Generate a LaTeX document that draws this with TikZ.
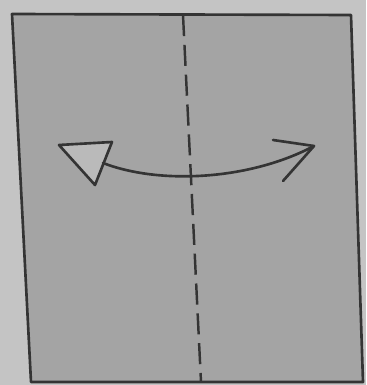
\documentclass[tikz,border=0pt]{standalone}
\usepackage{xcolor}
\usepackage{tikz}
\usetikzlibrary{calc}

\definecolor{deskgray}{RGB}{196,196,196}
\definecolor{papergray}{RGB}{164,164,164}
\definecolor{pencil}{RGB}{52,52,52}
\definecolor{headgray}{RGB}{186,186,186}

\begin{document}
\begin{tikzpicture}[
  x=0.02cm, y=-0.02cm,
  paper/.style={draw=pencil, line width=1.5pt, fill=papergray, line join=round},
  fold/.style={draw=pencil, line width=1.4pt, dash pattern=on 12pt off 5pt},
  swing/.style={draw=pencil, line width=1.5pt, line cap=round, line join=round},
  openhead/.style={swing, fill=headgray}
]

% Background (desk)
\fill[deskgray] (0,0) rectangle (366,385);
\useasboundingbox (0,0) rectangle (366,385);

% Sheet of paper
\coordinate (tl) at (12,14);
\coordinate (tr) at (351,15);
\coordinate (br) at (363,382);
\coordinate (bl) at (31,382);
\draw[paper] (tl) -- (tr) -- (br) -- (bl) -- cycle;

% Valley fold line
\coordinate (foldtop) at (183,15);
\coordinate (foldbot) at (201,382);
\draw[fold] (foldtop) -- (foldbot);

% Left arrowhead (hollow triangle)
\coordinate (la) at (59,145);
\coordinate (lb) at (112,142);
\coordinate (lc) at (95,185);
\draw[openhead] (la) -- (lb) -- (lc) -- cycle;

% Curved arrow
\coordinate (tail) at (103,163);
\coordinate (tip) at (314,146);
\draw[swing] (tail) .. controls (160,185) and (250,180) .. (tip);

% Right arrowhead (open barb)
\coordinate (rup) at (273,140);
\coordinate (rdn) at (283,181);
\draw[swing] (rup) -- (tip) -- (rdn);

\end{tikzpicture}
\end{document}
